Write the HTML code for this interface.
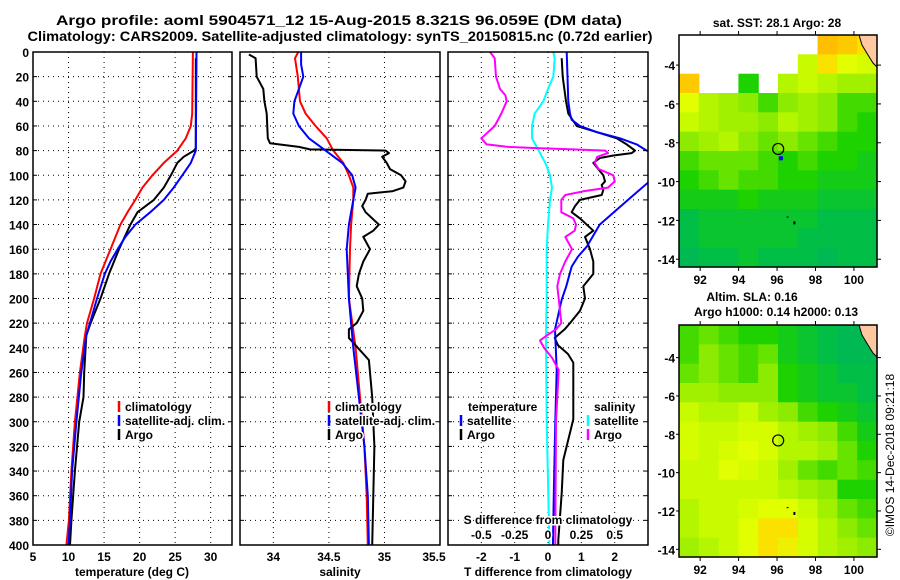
<!DOCTYPE html>
<html><head><meta charset="utf-8"><style>
html,body{margin:0;padding:0;background:#fff;}
svg{display:block;font-family:"Liberation Sans",sans-serif;font-weight:bold;}
</style></head><body>
<svg id="chart" width="900" height="580" viewBox="0 0 900 580" xmlns="http://www.w3.org/2000/svg">
<text x="339" y="25" font-size="14" text-anchor="middle" textLength="566" lengthAdjust="spacingAndGlyphs">Argo profile: aoml 5904571_12 15-Aug-2015 8.321S 96.059E (DM data)</text>
<text x="340" y="41" font-size="14" text-anchor="middle" textLength="625" lengthAdjust="spacingAndGlyphs">Climatology: CARS2009. Satellite-adjusted climatology: synTS_20150815.nc (0.72d earlier)</text>
<g id="plots"></g>
<g id="maps"></g>
<text transform="translate(894,455) rotate(-90)" font-size="12" font-weight="normal" text-anchor="middle">©IMOS 14-Dec-2018 09:21:18</text>
</svg>
<script>
// ---------- data ----------
const depthTicks = [0,20,40,60,80,100,120,140,160,180,200,220,240,260,280,300,320,340,360,380,400];
const tempTicks = [5,10,15,20,25,30];
const salTicks = [34,34.5,35,35.5];
const tdiffTicks = [-2,-1,0,1,2];
const sdiffTicks = [-0.5,-0.25,0,0.25,0.5];
const sdiffTickLabels = ["-0.5","-0.25","0","0.25","0.5"];

const tClimD = [0,50,60,70,80,90,100,110,120,130,140,160,180,200,220,230,260,300,340,380,400];
const tClimV = [27.5,27.4,27.2,26.5,25.3,23.4,21.8,20.4,19.4,18.3,17.3,15.9,14.5,13.6,12.6,12.3,11.6,10.9,10.4,10.05,9.7];
const tSatD = [0,80,90,100,110,120,130,140,150,160,170,180,200,220,230,260,300,340,380,400];
const tSatV = [28.0,27.9,27.2,26.0,24.8,23.4,21.5,19.4,18.0,16.9,15.9,15.1,14.0,13.0,12.5,11.8,11.1,10.5,10.2,10.0];
const tArgoD = [5,78,80,85,90,100,110,120,130,140,160,180,200,220,230,260,280,300,340,380,400];
const tArgoV = [27.9,27.9,27.65,26.2,25.3,24.4,23.4,22.0,19.7,18.7,17.1,15.7,14.5,13.1,12.5,12.2,12.1,11.5,10.9,10.4,10.2];

const sClimD = [0,5,20,40,50,60,70,80,90,100,110,120,140,160,200,240,280,320,360,400];
const sClimV = [34.225,34.195,34.22,34.24,34.29,34.38,34.48,34.54,34.63,34.68,34.72,34.72,34.70,34.69,34.68,34.74,34.78,34.82,34.84,34.85];
const sSatD = [0,10,20,30,40,50,60,70,80,90,100,110,120,140,160,200,240,280,320,360,400];
const sSatV = [34.25,34.25,34.27,34.23,34.19,34.18,34.23,34.32,34.47,34.62,34.71,34.74,34.72,34.68,34.66,34.68,34.72,34.77,34.82,34.85,34.86];
const sArgoD = [2,5,20,25,30,40,50,70,74,77,79,80,82,85,90,95,100,105,110,113,115,120,125,130,140,145,150,160,170,180,190,200,210,220,225,232,238,250,260,280,300,320,360,400];
const sArgoV = [33.78,33.84,33.85,33.88,33.91,33.92,33.94,33.95,33.97,34.23,34.33,35.01,35.04,34.98,35.02,35.05,35.15,35.19,35.17,35.07,34.85,34.83,34.80,34.83,34.95,34.90,34.81,34.87,34.81,34.77,34.75,34.80,34.81,34.75,34.68,34.68,34.74,34.86,34.87,34.89,34.90,34.91,34.90,34.89];

const dtSatD = [0,40,50,55,60,65,70,75,80,85,95,100,106,120,140,158,166,174,190,201,225,258,300,350,396,400];
const dtSatV = [0.56,0.61,0.66,0.71,0.96,1.46,2.16,2.66,2.96,3.5,4.1,4.0,3.0,2.4,1.55,1.16,0.9,0.71,0.55,0.41,0.21,0.26,0.22,0.18,0.15,0.15];
const dtArgoD = [5,20,40,50,60,65,70,75,80,82,84,86,90,95,100,105,108,112,116,120,125,130,135,145,150,160,170,180,190,200,210,220,225,232,238,245,252,265,298,331,358,396,400];
const dtArgoV = [0.41,0.44,0.54,0.61,0.86,1.46,2.06,2.36,2.61,2.51,1.96,1.56,1.36,1.51,1.66,1.71,1.61,1.66,1.61,0.96,0.81,0.71,0.96,1.36,1.11,1.26,1.36,1.36,1.06,1.11,0.96,0.66,0.5,0.2,0.3,0.6,0.76,0.76,0.76,0.46,0.41,0.31,0.31];
const dsArgoD = [0,5,20,30,35,40,50,60,70,75,77,78,79,80,82,85,90,95,100,105,110,113,116,120,130,135,140,145,150,160,170,180,190,200,210,220,225,230,234,240,248,258,300,396,400];
const dsArgoV = [-0.435,-0.40,-0.39,-0.36,-0.32,-0.31,-0.35,-0.40,-0.50,-0.46,-0.30,-0.085,0.19,0.43,0.45,0.37,0.35,0.38,0.49,0.50,0.45,0.265,0.13,0.10,0.10,0.19,0.21,0.20,0.13,0.18,0.13,0.09,0.07,0.08,0.09,0.10,0.06,-0.01,-0.06,-0.03,0.03,0.08,0.06,0.055,0.055];
const dsSatD = [0,5,20,30,40,50,60,70,80,90,100,110,120,140,160,200,230,300,396,400];
const dsSatV = [0.04,0.05,0.04,0.0,-0.035,-0.10,-0.12,-0.12,-0.07,-0.02,0.015,0.03,0.015,0.0,-0.01,-0.01,-0.015,-0.01,0.01,0.01];

// maps: value grid (rows north->south, 10 columns west->east); -1 = no data
const sstGrid = [
[-1,-1,-1,-1,-1,-1,-1,0.95,0.9,0.8],
[-1,-1,-1,-1,-1,-1,0.6,0.8,0.7,0.65],
[0.9,-1,-1,0.3,-1,0.55,0.6,0.55,0.5,0.5],
[0.7,0.55,0.5,0.45,0.35,0.45,0.5,0.45,0.35,0.35],
[0.6,0.55,0.5,0.5,0.45,0.55,0.5,0.45,0.35,0.3],
[0.45,0.5,0.55,0.45,0.4,0.45,0.4,0.35,0.3,0.3],
[0.35,0.4,0.4,0.4,0.35,0.3,0.35,0.3,0.3,0.25],
[0.3,0.35,0.4,0.35,0.35,0.3,0.3,0.25,0.25,0.25],
[0.25,0.25,0.25,0.3,0.25,0.25,0.25,0.2,0.2,0.2],
[0.15,0.2,0.2,0.2,0.2,0.2,0.2,0.15,0.15,0.15],
[0.15,0.2,0.2,0.2,0.2,0.2,0.15,0.15,0.15,0.15],
[0.1,0.15,0.15,0.2,0.15,0.15,0.15,0.1,0.15,0.15]];
const slaGrid = [
[0.35,0.4,0.35,0.3,0.3,0.25,0.2,0.15,0.1,0.1],
[0.35,0.45,0.4,0.35,0.4,0.25,0.2,0.15,0.1,0.1],
[0.4,0.45,0.4,0.35,0.45,0.3,0.25,0.2,0.15,0.15],
[0.5,0.5,0.45,0.45,0.45,0.3,0.25,0.2,0.2,0.15],
[0.6,0.55,0.55,0.6,0.5,0.45,0.35,0.3,0.25,0.2],
[0.65,0.6,0.6,0.65,0.65,0.55,0.5,0.45,0.35,0.25],
[0.65,0.6,0.65,0.7,0.65,0.55,0.55,0.5,0.4,0.3],
[0.6,0.6,0.7,0.65,0.6,0.5,0.4,0.35,0.4,0.35],
[0.6,0.6,0.6,0.6,0.6,0.55,0.5,0.45,0.3,0.3],
[0.55,0.6,0.6,0.65,0.7,0.7,0.6,0.5,0.4,0.35],
[0.55,0.6,0.6,0.7,0.8,0.8,0.65,0.55,0.45,0.4],
[0.5,0.55,0.6,0.7,0.8,0.75,0.65,0.55,0.5,0.45]];
const lonTicks = [92,94,96,98,100];
const latTicks = [-4,-6,-8,-10,-12,-14];
const argoLon = 96.06, argoLat = -8.32;

// ---------- drawing ----------
const NS = "http://www.w3.org/2000/svg";
function mk(tag, attrs, parent){ const e=document.createElementNS(NS,tag); for(const k in attrs) e.setAttribute(k,attrs[k]); parent.appendChild(e); return e; }
const plots = document.getElementById('plots');
const Y0=52, Y1=545;
const yScale = d => Y0 + d*(Y1-Y0)/400;

const panels = [
 {key:'temperature', x0:33, x1:232, min:5, max:33},
 {key:'salinity', x0:240, x1:440, min:33.7, max:35.5},
 {key:'difference', x0:448, x1:648, min:-3, max:3}
];
function xs(p){ return v => p.x0 + (v-p.min)*(p.x1-p.x0)/(p.max-p.min); }

function grid(p, ticks){
  const g = mk('g',{},plots);
  
  
  const x = xs(p);
  depthTicks.forEach(d=>{ if(d>0&&d<400) mk('line',{x1:p.x0,x2:p.x1,y1:yScale(d),y2:yScale(d),stroke:'#000','stroke-width':1,'stroke-dasharray':'1,4'},g); });
  ticks.forEach(t=>{ const xx=x(t); if(xx>p.x0+2&&xx<p.x1-2) mk('line',{x1:xx,x2:xx,y1:Y0,y2:Y1,stroke:'#000','stroke-width':1,'stroke-dasharray':'1,4'},g); });
}
function frame(p){
  const r = mk('rect',{x:p.x0,y:Y0,width:p.x1-p.x0,height:Y1-Y0,fill:'none',stroke:'#000','stroke-width':1.5},plots);
  
  
  depthTicks.forEach(d=>{ mk('line',{x1:p.x0,x2:p.x0+4,y1:yScale(d),y2:yScale(d),stroke:'#000'},plots); mk('line',{x1:p.x1-4,x2:p.x1,y1:yScale(d),y2:yScale(d),stroke:'#000'},plots); });
}
function series(p, D, V, color, name){
  const x = xs(p);
  let path='';
  D.forEach((d,i)=>{ path += (i?'L':'M') + x(V[i]).toFixed(1) + ',' + yScale(d).toFixed(1); });
  const e = mk('path',{d:path,fill:'none',stroke:color,'stroke-width':2,'stroke-linejoin':'round'},plots);
  
  
}
function label(txt,x,y,anchor,name,size){
  const t = mk('text',{x:x,y:y,'font-size':size||12,'text-anchor':anchor||'middle'},plots);
  t.textContent = txt;
  
  
  return t;
}
function legendEntry(x,y,color,txt,name){
  mk('line',{x1:x,x2:x,y1:y-10,y2:y+1,stroke:color,'stroke-width':2.5},plots);
  const t = label(txt,x+6,y,'start',name);
  t.setAttribute('stroke','#fff'); t.setAttribute('stroke-width','3'); t.setAttribute('paint-order','stroke');
}

const defs = mk('defs',{},plots);
const cp = mk('clipPath',{id:'clipD'},defs);
mk('rect',{x:448,y:52,width:200,height:493},cp);

grid(panels[0], tempTicks); grid(panels[1], salTicks); grid(panels[2], tdiffTicks);

series(panels[0], tClimD, tClimV, '#ff0000', 'temperature-climatology-line');
series(panels[0], tArgoD, tArgoV, '#000000', 'temperature-argo-line');
series(panels[0], tSatD, tSatV, '#0000ff', 'temperature-satellite-line');

series(panels[1], sClimD, sClimV, '#ff0000', 'salinity-climatology-line');
series(panels[1], sArgoD, sArgoV, '#000000', 'salinity-argo-line');
series(panels[1], sSatD, sSatV, '#0000ff', 'salinity-satellite-line');

const sPanel = {x0:448,x1:648,min:-0.75,max:0.75};
const before = plots.childNodes.length;
series(panels[2], dtArgoD, dtArgoV, '#000000', 'tdiff-argo-line');
series(panels[2], dtSatD, dtSatV, '#0000ff', 'tdiff-satellite-line');
series(sPanel, dsSatD, dsSatV, '#00ffff', 'sdiff-satellite-line');
series(sPanel, dsArgoD, dsArgoV, '#ff00ff', 'sdiff-argo-line');
for(let i=before;i<plots.childNodes.length;i++) plots.childNodes[i].setAttribute('clip-path','url(#clipD)');

panels.forEach(frame);

depthTicks.forEach(d=>label(String(d),29,yScale(d)+5,'end','depth-tick-'+d));
const xt = xs(panels[0]); tempTicks.forEach(t=>label(String(t),xt(t),561,'middle','temp-tick-'+t));
const xsal = xs(panels[1]); salTicks.forEach(t=>label(String(t),Math.min(xsal(t),434),561,'middle','sal-tick-'+t));
const xd = xs(panels[2]); tdiffTicks.forEach(t=>label(String(t),xd(t),561,'middle','tdiff-tick-'+t));
const xsd = xs(sPanel); sdiffTicks.forEach((t,i)=>{ const l=label(sdiffTickLabels[i],xsd(t),539,'middle','sdiff-tick-'+i); l.setAttribute('stroke','#fff'); l.setAttribute('stroke-width','3'); l.setAttribute('paint-order','stroke'); });
const sdt = label('S difference from climatology',548,524,'middle','sdiff-axis-title');
sdt.setAttribute('stroke','#fff'); sdt.setAttribute('stroke-width','3'); sdt.setAttribute('paint-order','stroke');
label('temperature (deg C)',132,576,'middle','temperature-axis-title');
label('salinity',340,576,'middle','salinity-axis-title');
label('T difference from climatology',548,576,'middle','tdiff-axis-title');

legendEntry(119,411,'#ff0000','climatology','legend-temp-climatology');
legendEntry(119,425,'#0000ff','satellite-adj. clim.','legend-temp-satellite');
legendEntry(119,439,'#000000','Argo','legend-temp-argo');
legendEntry(329,411,'#ff0000','climatology','legend-sal-climatology');
legendEntry(329,425,'#0000ff','satellite-adj. clim.','legend-sal-satellite');
legendEntry(329,439,'#000000','Argo','legend-sal-argo');
{ const t=label('temperature',468,411,'start','legend-tdiff-heading'); t.setAttribute('stroke','#fff'); t.setAttribute('stroke-width','3'); t.setAttribute('paint-order','stroke'); }
legendEntry(461,425,'#0000ff','satellite','legend-tdiff-satellite');
legendEntry(461,439,'#000000','Argo','legend-tdiff-argo');
{ const t=label('salinity',594,411,'start','legend-sdiff-heading'); t.setAttribute('stroke','#fff'); t.setAttribute('stroke-width','3'); t.setAttribute('paint-order','stroke'); }
legendEntry(588,425,'#00ffff','satellite','legend-sdiff-satellite');
legendEntry(588,439,'#ff00ff','Argo','legend-sdiff-argo');

// ---------- maps ----------
const maps = document.getElementById('maps');
const stops = [[0,[0,175,110]],[0.15,[0,190,70]],[0.3,[30,210,0]],[0.45,[140,235,0]],[0.6,[200,250,0]],[0.7,[225,255,0]],[0.8,[250,225,0]],[0.95,[255,190,0]]];
function colorOf(v){
  if(v<=stops[0][0]) return 'rgb('+stops[0][1]+')';
  for(let i=1;i<stops.length;i++){ if(v<=stops[i][0]){ const a=stops[i-1],b=stops[i],f=(v-a[0])/(b[0]-a[0]); return 'rgb('+a[1].map((c,k)=>Math.round(c+(b[1][k]-c)*f)).join(',')+')'; } }
  return 'rgb('+stops[stops.length-1][1]+')';
}
function drawMap(gridVals, x0, y0, x1, y1, latTop, latBot, name, dot){
  const g = mk('g',{},maps);
  
  
  const lonMin=90.9, lonMax=101.2;
  const lx = lo => x0 + (lo-lonMin)*(x1-x0)/(lonMax-lonMin);
  const ly = la => y0 + (latTop-la)*(y1-y0)/(latTop-latBot);
  const rows=gridVals.length, cols=gridVals[0].length;
  const cw=(x1-x0)/cols, ch=(y1-y0)/rows;
  gridVals.forEach((row,r)=>row.forEach((v,c)=>{
    if(v<0) return;
    const cell = mk('rect',{x:(x0+c*cw).toFixed(1),y:(y0+r*ch).toFixed(1),width:(cw+0.6).toFixed(1),height:(ch+0.6).toFixed(1),fill:colorOf(v)},g);
    
    
  }));
  mk('path',{d:`M${x1-18},${y0} L${x1-15},${y0+10} L${x1-9},${y0+20} L${x1-4},${y0+28} L${x1},${y0+32} L${x1},${y0} Z`,fill:'#ffc8a0',stroke:'#000','stroke-width':1},g);
  mk('rect',{x:x0,y:y0,width:x1-x0,height:y1-y0,fill:'none',stroke:'#000','stroke-width':1.5},g);
  lonTicks.forEach(lo=>{ mk('line',{x1:lx(lo),x2:lx(lo),y1:y0-4,y2:y0,stroke:'#000'},g); mk('line',{x1:lx(lo),x2:lx(lo),y1:y1,y2:y1+4,stroke:'#000'},g);
    const t=mk('text',{x:lx(lo),y:y1+17,'font-size':12,'text-anchor':'middle'},g); t.textContent=String(lo);
      });
  latTicks.forEach(la=>{ mk('line',{x1:x1,x2:x1+4,y1:ly(la),y2:ly(la),stroke:'#000'},g); mk('line',{x1:x0-3,x2:x0,y1:ly(la),y2:ly(la),stroke:'#000'},g);
    const t=mk('text',{x:x0-4,y:ly(la)+5,'font-size':12,'text-anchor':'end'},g); t.textContent=String(la);
      });
  if(dot) mk('rect',{x:lx(96.2)-2,y:ly(-8.8)-2,width:4,height:4,fill:'#0000ff'},g);
  const c = mk('circle',{cx:lx(argoLon),cy:ly(argoLat),r:5.5,fill:'none',stroke:'#000','stroke-width':1.2},g);
  
  
  mk('rect',{x:lx(96.5),y:ly(-11.8),width:2,height:1,fill:'#000'},g);
  mk('rect',{x:lx(96.85),y:ly(-12.05),width:2,height:3,fill:'#000'},g);
}
drawMap(sstGrid, 679, 35, 877, 267, -2.45, -14.4, 'sst-map', true);
drawMap(slaGrid, 679, 325, 877, 557, -2.3, -14.4, 'sla-map', false);
function mapTitle(txt,x,y,name){ const t=mk('text',{x:x,y:y,'font-size':12,'text-anchor':'middle'},maps); t.textContent=txt;   }
mapTitle('sat. SST: 28.1 Argo: 28',777,27,'sst-map-title');
mapTitle('Altim. SLA: 0.16',752,301,'sla-map-title');
mapTitle('Argo h1000: 0.14 h2000: 0.13',776,316,'sla-map-subtitle');
</script>
</body></html>
